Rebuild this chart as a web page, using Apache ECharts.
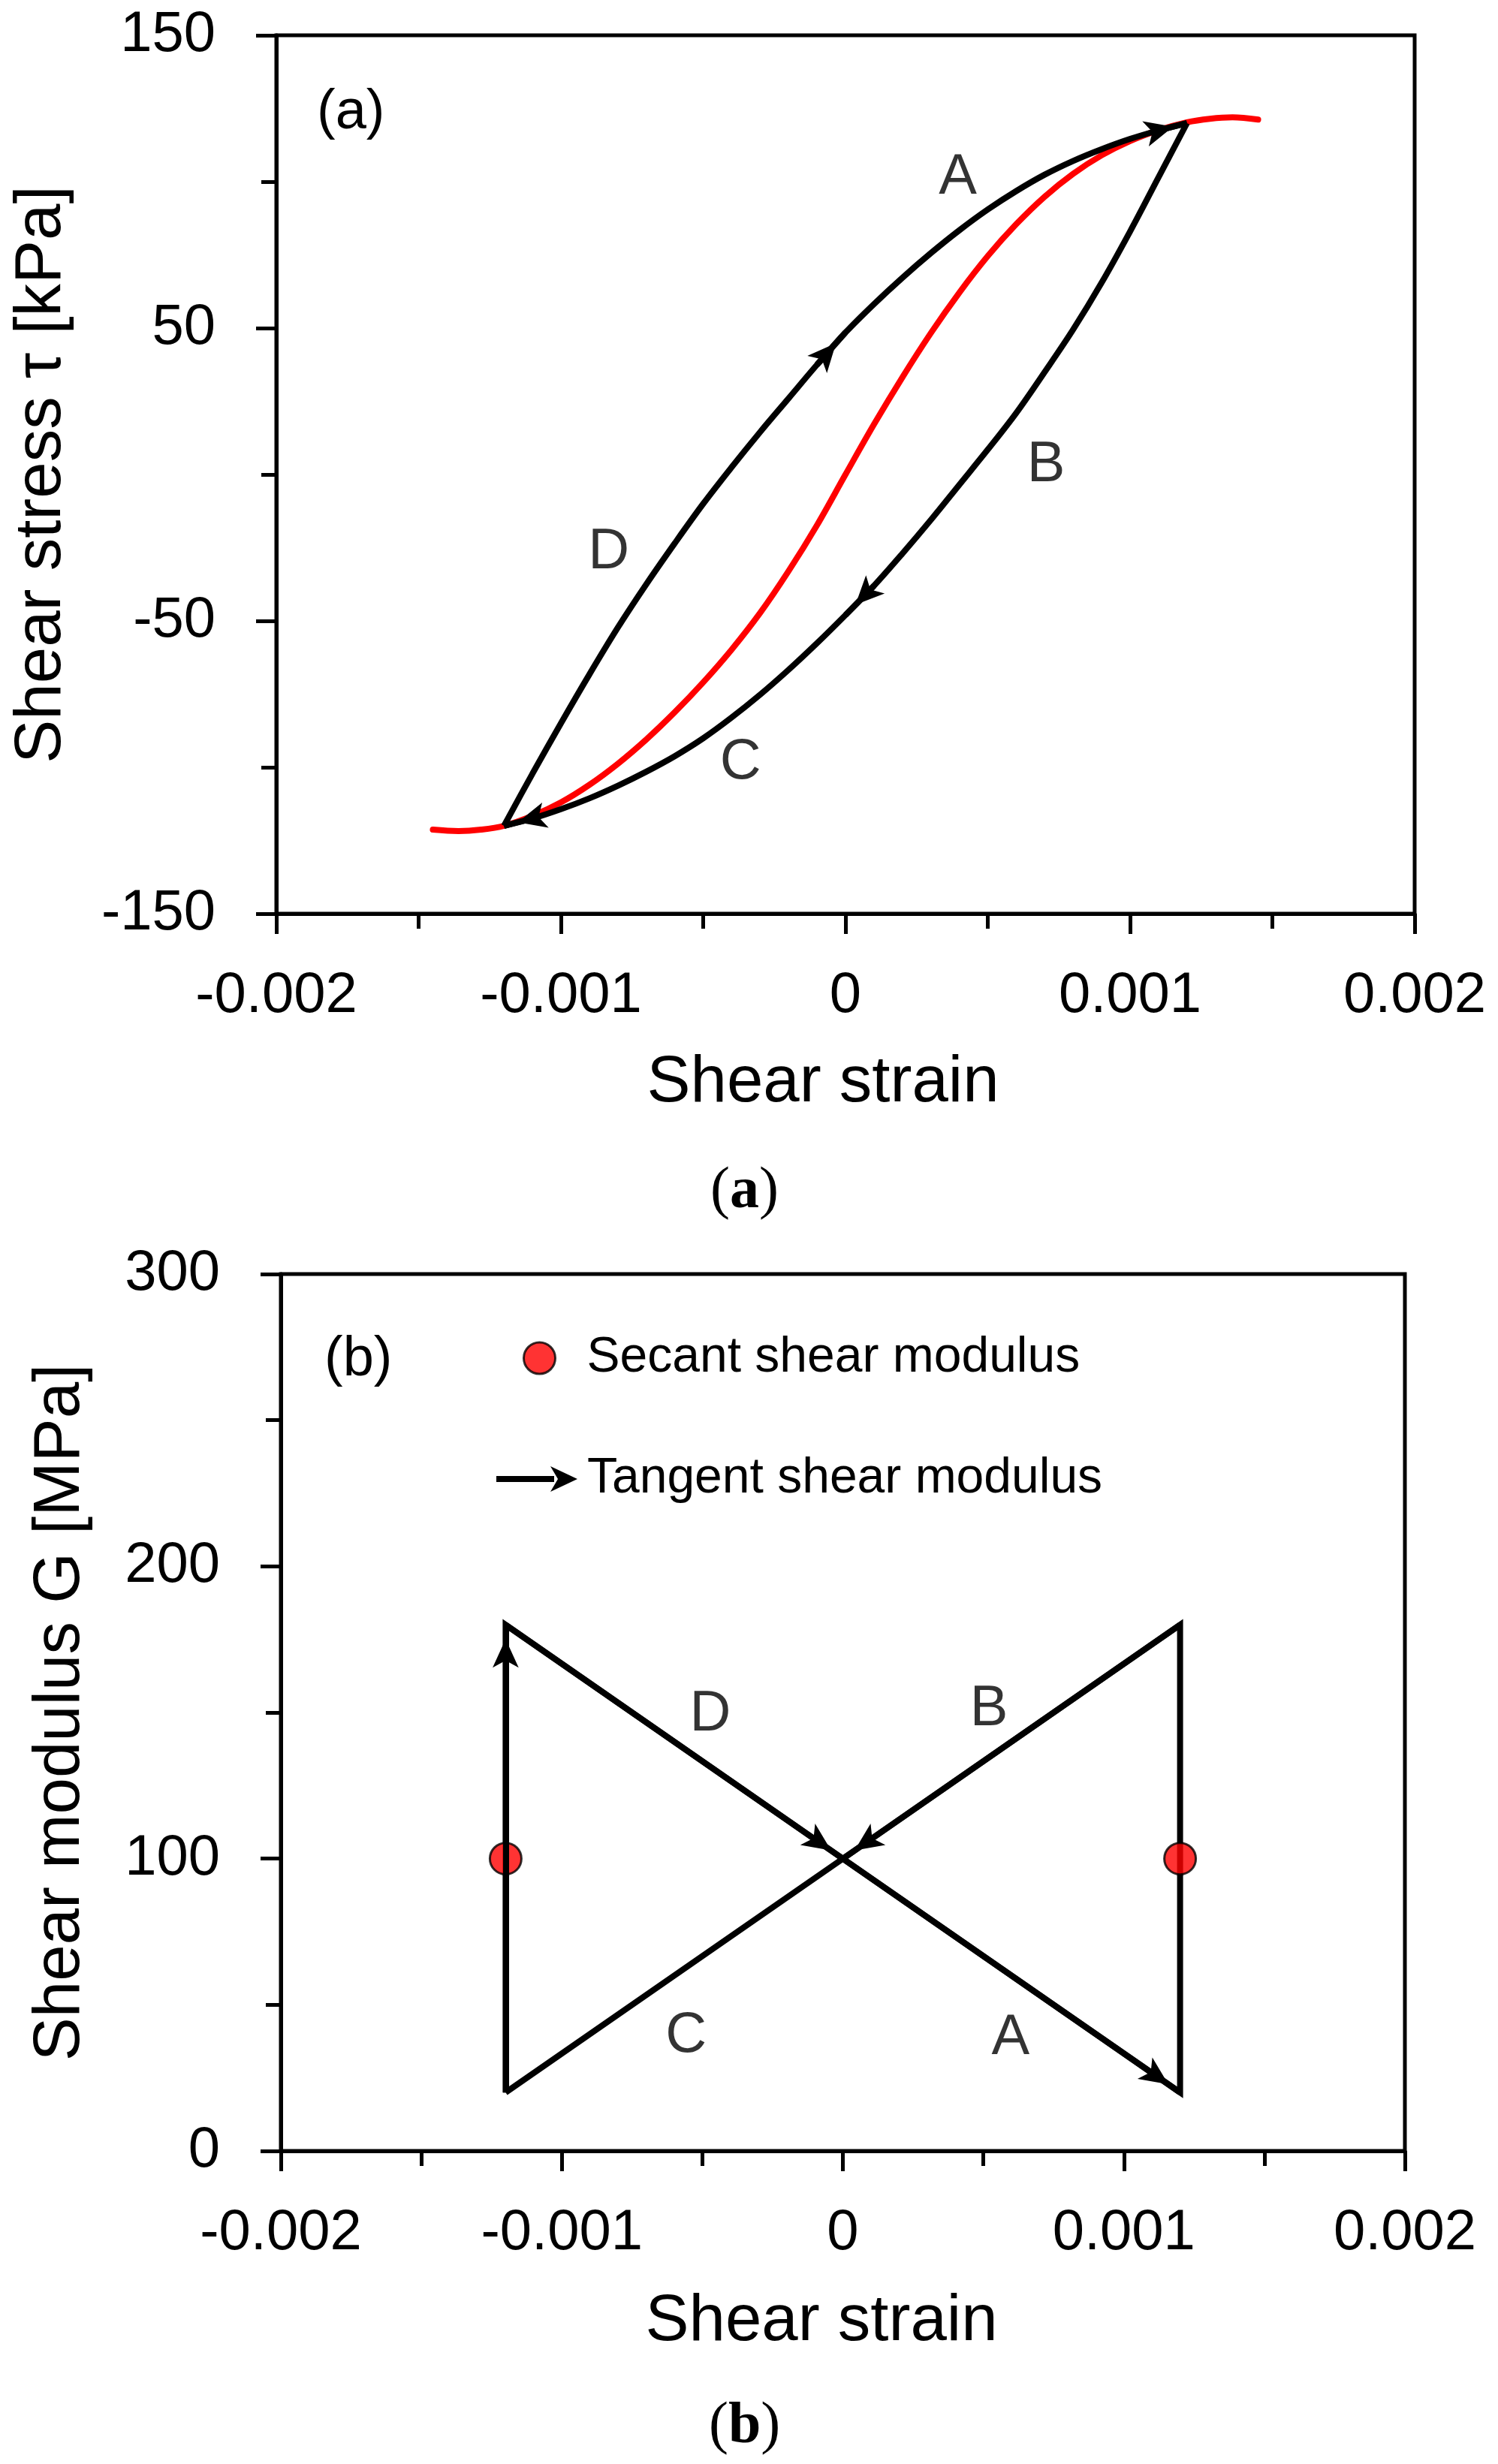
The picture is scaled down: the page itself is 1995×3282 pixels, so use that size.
<!DOCTYPE html>
<html>
<head>
<meta charset="utf-8">
<script src="https://cdn.jsdelivr.net/npm/echarts@6/dist/echarts.min.js"></script>
<style>
  html, body { margin: 0; padding: 0; background: #fff; }
  #chart { width: 1995px; height: 3282px; }
</style>
</head>
<body>
<div id="chart"></div>
<script>
// ---- (a) shear stress vs shear strain ----
// red backbone curve
const backboneStrain = [-0.00145, -0.00136, -0.00128, -0.0012, -0.0011, -0.001, -0.0009, -0.0008, -0.0007, -0.0006, -0.0005, -0.0004, -0.0003, -0.0002, -0.0001, 0,
    0.0001, 0.0002, 0.0003, 0.0004, 0.0005, 0.0006, 0.0007, 0.0008, 0.0009, 0.001, 0.0011, 0.0012, 0.00128, 0.00136, 0.00145];
const backboneStress = [-121.3, -121.8, -121.3, -120, -116.6, -112, -106, -98.8, -90.5, -81.2, -71, -59.8, -47.3, -33, -17.3, 0,
    17.1, 33.2, 48.3, 62.1, 74.6, 85.5, 94.9, 102.7, 109, 113.9, 117.6, 120.3, 121.5, 122, 121.2];

// upper branch of the loop: D then A
const upperStrain = [-0.0012, -0.0011, -0.001, -0.0009, -0.0008, -0.0007, -0.0006, -0.0005, -0.0004, -0.0003, -0.0002, -0.0001, 0,
    0.0001, 0.0002, 0.0003, 0.0004, 0.0005, 0.0006, 0.0007, 0.0008, 0.0009, 0.001, 0.0011, 0.0012];
const upperStress = [-120, -102.2, -85, -68.3, -52.3, -37.5, -23.5, -10, 2.5, 14.5, 26, 37.5, 48.5,
    58.2, 67.2, 75.6, 83.4, 90.5, 96.8, 102.4, 107.1, 111.1, 114.6, 117.5, 120];

// lower branch of the loop: B then C
const lowerStrain = [0.0012, 0.0011, 0.001, 0.0009, 0.0008, 0.0007, 0.0006, 0.0005, 0.0004, 0.0003, 0.0002, 0.0001, 0,
    -0.0001, -0.0002, -0.0003, -0.0004, -0.0005, -0.0006, -0.0007, -0.0008, -0.0009, -0.001, -0.0011, -0.0012];
const lowerStress = [120, 101.5, 83, 65.5, 49.5, 35, 21, 8.5, -3.5, -15.5, -27, -38, -48,
    -57.6, -66.7, -75.2, -83, -90.1, -96.2, -101.5, -106.3, -110.6, -114.3, -117.5, -120];

const branchNamesA = ['A', 'B', 'C', 'D'];
const branchStrainA = [0.000395, 0.000705, -0.000369, -0.000832];
const branchStressA = [101.3, 3, -98.4, -26.6];

// ---- (b) shear modulus vs shear strain ----
const tangentStrain = [-0.0012, -0.0012, 0, 0.0012, 0.0012, 0, -0.0012];
const tangentModulus = [20, 180, 100, 20, 180, 100, 20];
const secantStrain = [-0.0012, 0.0012];
const secantModulus = [100, 100];

const branchNamesB = ['A', 'B', 'C', 'D'];
const branchStrainB = [0.000597, 0.00052, -0.000558, -0.000472];
const branchModulusB = [38.6, 151, 39.2, 149.2];

// axis ticks
const strainTicks = [-0.002, -0.001, 0, 0.001, 0.002];
const stressTicks = [-150, -50, 50, 150];
const modulusTicks = [0, 100, 200, 300];

const FONT = 'Liberation Sans';
const SERIF = 'Liberation Serif';

function pairs(xs, ys) {
    return xs.map(function (x, i) { return [x, ys[i]]; });
}

// short segment ending at point i, used only to carry an arrow head
function arrowAt(xs, ys, i) {
    return [{coord: [xs[i - 1], ys[i - 1]]}, {coord: [xs[i], ys[i]]}];
}

function arrowMarks(list, width) {
    return {
        silent: true,
        animation: false,
        symbol: ['none', 'arrow'],
        symbolSize: [26, 38],
        symbolOffset: [0, [0, 19]],
        label: {show: false},
        emphasis: {disabled: true},
        lineStyle: {color: '#000', width: width, type: 'solid'},
        data: list
    };
}

function valueAxis(extra) {
    let axis = {
        type: 'value',
        axisLine: {show: true, onZero: false, lineStyle: {color: '#000', width: 5}},
        axisTick: {show: true, inside: false, length: 27, lineStyle: {color: '#000', width: 5}},
        minorTick: {show: true, splitNumber: 2, length: 20, lineStyle: {color: '#000', width: 5}},
        splitLine: {show: false},
        minorSplitLine: {show: false},
        nameLocation: 'middle',
        nameMoveOverlap: false,
        nameTextStyle: {fontFamily: FONT, fontSize: 87, color: '#000'},
        axisLabel: {fontFamily: FONT, fontSize: 76, color: '#000'}
    };
    return Object.assign(axis, extra);
}

function labelSeries(names, xs, ys, xi) {
    return {
        type: 'scatter',
        xAxisIndex: xi,
        yAxisIndex: xi,
        symbolSize: 0,
        itemStyle: {color: '#000'},
        silent: true,
        z: 5,
        label: {
            show: true,
            position: 'inside',
            formatter: '{b}',
            fontFamily: FONT,
            fontSize: 76,
            color: '#000'
        },
        data: names.map(function (n, i) { return {name: n, value: [xs[i], ys[i]]}; })
    };
}

function caption(letter, left, top) {
    return {
        text: '{p|(}{b|' + letter + '}{p|)}', left: left, top: top, padding: 0,
        textStyle: {
            fontWeight: 'normal',
            rich: {
                p: {fontFamily: SERIF, fontSize: 78, fontWeight: 'normal', color: '#000'},
                b: {fontFamily: SERIF, fontSize: 78, fontWeight: 'bold', color: '#000'}
            }
        }
    };
}

let myChart = echarts.init(document.getElementById('chart'), null, {renderer: 'canvas'});

let option = {
    animation: false,
    backgroundColor: '#fff',
    textStyle: {fontFamily: FONT},
    title: [
        {text: '(a)', left: 422, top: 114, padding: 0,
            textStyle: {fontFamily: FONT, fontSize: 74, fontWeight: 'normal', color: '#000'}},
        {text: '(b)', left: 432, top: 1775, padding: 0,
            textStyle: {fontFamily: FONT, fontSize: 74, fontWeight: 'normal', color: '#000'}},
        caption('a', 946, 1549),
        caption('b', 944, 3194)
    ],
    legend: [
        {
            data: [{name: 'Secant shear modulus', icon: 'circle',
                itemStyle: {color: '#ff0000', borderColor: '#000', borderWidth: 3}}],
            left: 696, top: 1776, padding: 0,
            itemWidth: 42, itemHeight: 42,
            selectedMode: false,
            textStyle: {fontFamily: FONT, fontSize: 66, color: '#000', padding: [0, 0, 0, 37]}
        },
        {
            data: [{name: 'Tangent shear modulus',
                icon: 'path://M0,13 L77,13 L77,21 L0,21 Z M72,0 L108,17 L72,34 L82,17 Z',
                itemStyle: {color: '#000', borderWidth: 0}}],
            left: 661, top: 1937, padding: 0,
            itemWidth: 108, itemHeight: 34,
            selectedMode: false,
            textStyle: {fontFamily: FONT, fontSize: 66, color: '#000', padding: [0, 0, 0, 8]}
        }
    ],
    grid: [
        {left: 368, top: 47, width: 1516, height: 1170, show: true, borderColor: '#000', borderWidth: 5},
        {left: 374, top: 1697, width: 1497, height: 1168, show: true, borderColor: '#000', borderWidth: 5}
    ],
    xAxis: [
        valueAxis({
            gridIndex: 0, min: strainTicks[0], max: strainTicks[strainTicks.length - 1], interval: 0.001,
            name: 'Shear strain', nameGap: 183,
            nameTextStyle: {fontFamily: FONT, fontSize: 87, color: '#000', padding: [0, 60, 0, 0]},
            axisLabel: {fontFamily: FONT, fontSize: 76, color: '#000', margin: 72}
        }),
        valueAxis({
            gridIndex: 1, min: strainTicks[0], max: strainTicks[strainTicks.length - 1], interval: 0.001,
            name: 'Shear strain', nameGap: 185,
            nameTextStyle: {fontFamily: FONT, fontSize: 87, color: '#000', padding: [0, 57, 0, 0]},
            axisLabel: {fontFamily: FONT, fontSize: 76, color: '#000', margin: 72}
        })
    ],
    yAxis: [
        valueAxis({
            gridIndex: 0, min: stressTicks[0], max: stressTicks[stressTicks.length - 1], interval: 100,
            name: 'Shear stress \u03c4 [kPa]', nameGap: 268, nameRotate: 90,
            axisLabel: {fontFamily: FONT, fontSize: 76, color: '#000', margin: 81}
        }),
        valueAxis({
            gridIndex: 1, min: modulusTicks[0], max: modulusTicks[modulusTicks.length - 1], interval: 100,
            name: 'Shear modulus G [MPa]', nameGap: 249, nameRotate: 90,
            axisLabel: {fontFamily: FONT, fontSize: 76, color: '#000', margin: 81}
        })
    ],
    series: [
        {
            name: 'Backbone',
            type: 'line',
            xAxisIndex: 0, yAxisIndex: 0,
            data: pairs(backboneStrain, backboneStress),
            smooth: 0.35,
            symbol: 'none',
            lineStyle: {color: '#ff0000', width: 8, cap: 'round'},
            z: 2
        },
        {
            name: 'Upper branch',
            type: 'line',
            xAxisIndex: 0, yAxisIndex: 0,
            data: pairs(upperStrain, upperStress),
            smooth: 0.35,
            symbol: 'none',
            lineStyle: {color: '#000', width: 8},
            z: 3,
            markLine: arrowMarks([
                arrowAt(upperStrain, upperStress, 12),
                arrowAt(upperStrain, upperStress, upperStrain.length - 1)
            ], 8)
        },
        {
            name: 'Lower branch',
            type: 'line',
            xAxisIndex: 0, yAxisIndex: 0,
            data: pairs(lowerStrain, lowerStress),
            smooth: 0.35,
            symbol: 'none',
            lineStyle: {color: '#000', width: 8},
            z: 3,
            markLine: arrowMarks([
                arrowAt(lowerStrain, lowerStress, 12),
                arrowAt(lowerStrain, lowerStress, lowerStrain.length - 1)
            ], 8)
        },
        labelSeries(branchNamesA, branchStrainA, branchStressA, 0),
        {
            name: 'Tangent shear modulus',
            type: 'line',
            xAxisIndex: 1, yAxisIndex: 1,
            data: pairs(tangentStrain, tangentModulus),
            symbol: 'none',
            lineStyle: {color: '#000', width: 8, join: 'miter'},
            itemStyle: {color: '#000'},
            z: 3,
            markLine: arrowMarks([
                arrowAt(tangentStrain, tangentModulus, 1),
                arrowAt(tangentStrain, tangentModulus, 2),
                arrowAt(tangentStrain, tangentModulus, 3),
                arrowAt(tangentStrain, tangentModulus, 5)
            ], 8)
        },
        {
            name: 'Secant shear modulus',
            type: 'scatter',
            xAxisIndex: 1, yAxisIndex: 1,
            data: pairs(secantStrain, secantModulus),
            symbol: 'circle',
            symbolSize: 42,
            itemStyle: {color: '#ff0000', borderColor: '#000', borderWidth: 3},
            z: 4
        },
        labelSeries(branchNamesB, branchStrainB, branchModulusB, 1)
    ]
};

myChart.setOption(option);
</script>
</body>
</html>
